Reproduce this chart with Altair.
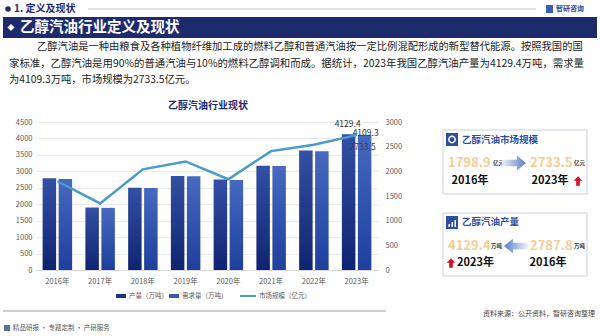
import altair as alt
import pandas as pd

FONT = "Noto Sans CJK SC"

# ---------------- data ----------------
years = ["2016年", "2017年", "2018年", "2019年", "2020年", "2021年", "2022年", "2023年"]
production = [2787.8, 1900, 2500, 2860, 2750, 3170, 3630, 4129.4]   # 万吨
demand = [2770, 1890, 2490, 2850, 2740, 3160, 3610, 4109.3]         # 万吨
market = [1798.9, 1350, 2040, 2200, 1840, 2410, 2540, 2733.5]        # 亿元
left_ticks = [0, 500, 1000, 1500, 2000, 2500, 3000, 3500, 4000, 4500]
right_ticks = [0, 500, 1000, 1500, 2000, 2500, 3000]
legend_labels = ["产量（万吨）", "需求量（万吨）", "市场规模（亿元）"]

section_title = "1. 定义及现状"
banner_title = "乙醇汽油行业定义及现状"
paragraph = [
    "乙醇汽油是一种由粮食及各种植物纤维加工成的燃料乙醇和普通汽油按一定比例混配形成的新型替代能源。按照我国的国",
    "家标准，乙醇汽油是用90%的普通汽油与10%的燃料乙醇调和而成。据统计，2023年我国乙醇汽油产量为4129.4万吨，需求量",
    "为4109.3万吨，市场规模为2733.5亿元。",
]
chart_title = "乙醇汽油行业现状"
panel1 = {"title": "乙醇汽油市场规模", "v_from": "1798.9", "v_to": "2733.5", "unit": "亿元",
          "y_from": "2016年", "y_to": "2023年"}
panel2 = {"title": "乙醇汽油产量", "v_from": "2787.8", "v_to": "4129.4", "unit": "万吨",
          "y_from": "2016年", "y_to": "2023年"}
source_text = "资料来源：公开资料，智研咨询整理"
footer_text = "精品研报 · 专题定制 · 产研服务"
logo_text = "智研咨询"

df = pd.DataFrame({"year": years, "production": production, "demand": demand, "market": market})

# ---------------- layout ----------------
PL, PT, W, H = 36, 122, 342, 148
PR, PB = 600 - PL - W, 336 - PT - H
NAVY = "#1d2a6c"


def X(a):
    return a - PL


def Y(b):
    return b - PT


ONE = pd.DataFrame({"t": [""]})


def txt(s, x, y, size, color, weight="normal", align="left", baseline="middle"):
    return alt.Chart(pd.DataFrame({"t": [s]})).mark_text(
        align=align, baseline=baseline, fontSize=size, color=color,
        fontWeight=weight, font=FONT
    ).encode(x=alt.value(X(x)), y=alt.value(Y(y)), text="t:N")


def rect(x1, x2, y1, y2, fill, stroke=None, sw=1, radius=0):
    kw = dict(fill=fill, cornerRadius=radius)
    if stroke:
        kw.update(stroke=stroke, strokeWidth=sw)
    return alt.Chart(ONE).mark_rect(**kw).encode(
        x=alt.value(X(x1)), x2=alt.value(X(x2)), y=alt.value(Y(y1)), y2=alt.value(Y(y2)))


def hrule(x1, x2, y, color, sw=1):
    return alt.Chart(ONE).mark_rule(color=color, strokeWidth=sw).encode(
        x=alt.value(X(x1)), x2=alt.value(X(x2)), y=alt.value(Y(y)))


def sym(x, y, shape, size, fill=None, stroke=None, sw=1):
    kw = dict(shape=shape, size=size, opacity=1)
    if fill is not None:
        kw.update(filled=True, fill=fill)
    else:
        kw.update(filled=False)
    if stroke:
        kw.update(stroke=stroke, strokeWidth=sw)
    else:
        kw.update(strokeWidth=0)
    return alt.Chart(ONE).mark_point(**kw).encode(x=alt.value(X(x)), y=alt.value(Y(y)))


ARROW_R = "M -1 -0.28 L 0.25 -0.28 L 0.25 -0.62 L 1 0 L 0.25 0.62 L 0.25 0.28 L -1 0.28 Z"
ARROW_L = "M 1 -0.28 L -0.25 -0.28 L -0.25 -0.62 L -1 0 L -0.25 0.62 L -0.25 0.28 L 1 0.28 Z"
UP = "M 0 -1 L 0.9 -0.05 L 0.38 -0.05 L 0.38 1 L -0.38 1 L -0.38 -0.05 L -0.9 -0.05 Z"


def grad_h(c_left, c_right):
    return alt.LinearGradient(gradient="linear", x1=0, x2=1, y1=0, y2=0,
                              stops=[alt.GradientStop(color=c_left, offset=0),
                                     alt.GradientStop(color=c_right, offset=1)])


# ---------------- main chart ----------------
x_enc = alt.X("year:N", sort=years,
              scale=alt.Scale(paddingInner=0, paddingOuter=0),
              axis=alt.Axis(title=None, labelAngle=0, ticks=False, domain=True,
                            domainColor="#d9d9d9", labelPadding=7, labelFontSize=7.5,
                            labelColor="#595959", labelFont=FONT))

yl_scale = alt.Scale(domain=[0, 4500], nice=False)
yr_scale = alt.Scale(domain=[0, 3000], nice=False)
axis_l = alt.Axis(values=left_ticks, format="d", title=None, orient="left", grid=True,
                  gridColor="#e6e6e6", gridWidth=0.8, domain=False, ticks=False,
                  labelPadding=4, labelFontSize=7.5, labelColor="#595959", labelFont=FONT)
axis_r = alt.Axis(values=right_ticks, format="d", title=None, orient="right", grid=False,
                  domain=False, ticks=False, labelPadding=7, labelFontSize=7.5,
                  labelColor="#595959", labelFont=FONT)

prod_grad = alt.LinearGradient(gradient="linear", x1=0, x2=0, y1=0, y2=1,
                               stops=[alt.GradientStop(color="#3350a5", offset=0),
                                      alt.GradientStop(color="#0f2470", offset=1)])
dem_grad = alt.LinearGradient(gradient="linear", x1=0, x2=0, y1=0, y2=1,
                              stops=[alt.GradientStop(color="#4769bf", offset=0),
                                     alt.GradientStop(color="#1f3f9c", offset=1)])

base = alt.Chart(df)

prod_bar = base.mark_bar(width=13.5, xOffset=-8, color=prod_grad).encode(
    x=x_enc, y=alt.Y("production:Q", scale=yl_scale, axis=axis_l))
dem_bar = base.mark_bar(width=13.5, xOffset=8, color=dem_grad).encode(
    x=x_enc, y=alt.Y("demand:Q", scale=yl_scale, axis=axis_l))

last = base.transform_filter(alt.datum.year == years[-1])
prod_lab = last.mark_text(xOffset=-9, dy=-10, fontSize=8.5, color="#333333", font=FONT).encode(
    x=x_enc, y=alt.Y("production:Q", scale=yl_scale, axis=axis_l),
    text=alt.Text("production:Q", format=".1f"))
dem_lab = last.mark_text(xOffset=9, dy=-2, fontSize=8.5, color="#333333", font=FONT).encode(
    x=x_enc, y=alt.Y("demand:Q", scale=yl_scale, axis=axis_l),
    text=alt.Text("demand:Q", format=".1f"))

bars = alt.layer(prod_bar, dem_bar, prod_lab, dem_lab)

line = base.mark_line(color="#4a9bc8", strokeWidth=2.5).encode(
    x=x_enc, y=alt.Y("market:Q", scale=yr_scale, axis=axis_r))
mkt_lab = last.mark_text(xOffset=6, dy=12, fontSize=8.5, color="#3a3f55", font=FONT).encode(
    x=x_enc, y=alt.Y("market:Q", scale=yr_scale, axis=axis_r),
    text=alt.Text("market:Q", format=".1f"))
lines = alt.layer(line, mkt_lab)

main = alt.layer(bars, lines).resolve_scale(y="independent")

# ---------------- decorations ----------------
layers = []
# header
layers += [
    sym(8, 9, "circle", 30, fill=NAVY),
    txt(section_title, 14, 9, 10, NAVY, "bold"),
    hrule(88, 536, 9, "#b5b5b5", 0.8),
    rect(546, 553, 5, 13, "#3a5fb0"),
    txt(logo_text, 556, 9, 7, "#2b4c9e", "bold"),
    rect(3, 597, 17, 38, NAVY),
    sym(11, 27.5, "diamond", 50, fill="white"),
    txt(banner_title, 20, 27.5, 14.5, "white", "bold"),
    txt(paragraph[0], 37, 47, 10.3, "#222222"),
    txt(paragraph[1], 9, 64, 10.4, "#222222"),
    txt(paragraph[2], 9, 80, 10.3, "#222222"),
    txt(chart_title, 208, 106, 10, NAVY, "bold", align="center"),
]
# legend
layers += [
    rect(116, 126, 294, 298, "#1f3585"),
    txt(legend_labels[0], 129, 296, 6.5, "#595959"),
    rect(169, 179, 294, 298, "#3a5ab0"),
    txt(legend_labels[1], 182, 296, 6.5, "#595959"),
    hrule(240, 256, 296, "#4a9bc8", 2),
    txt(legend_labels[2], 259, 296, 6.5, "#595959"),
]
# panel 1
PEACH = "#f5cd95"
layers += [
    rect(443, 587, 130, 194, "white", stroke="#c9cfdc", sw=1),
    rect(446, 458, 133, 146, "#2c4ea3"),
    sym(452, 139.5, "circle", 40, stroke="white", sw=1.5),
    txt(panel1["title"], 462, 140, 9.5, "#2c4ea3", "bold"),
    txt(panel1["v_from"], 448, 163, 13, PEACH, "bold"),
    txt(panel1["unit"], 493, 163, 5.5, "#333333", "bold"),
    sym(514, 163, ARROW_R, 576, fill=grad_h("#f0f3fa", "#5a7cc6")),
    txt(panel1["v_to"], 530, 163, 13, PEACH, "bold"),
    txt(panel1["unit"], 574, 163, 5.5, "#333333", "bold"),
    txt(panel1["y_from"], 470, 181, 11, "#111111", "bold", align="center"),
    txt(panel1["y_to"], 550, 181, 11, "#111111", "bold", align="center"),
    sym(578, 181, UP, 90, fill="#d0102a"),
]
# panel 2
layers += [
    rect(443, 587, 213, 276, "white", stroke="#c9cfdc", sw=1),
    rect(446, 458, 216, 229, "#2c4ea3"),
    rect(448.5, 450, 224, 227, "white"),
    rect(451.5, 453, 222, 227, "white"),
    rect(454.5, 456, 220, 227, "white"),
    txt(panel2["title"], 462, 222, 9.5, "#2c4ea3", "bold"),
    txt(panel2["v_to"], 448, 246, 13, PEACH, "bold"),
    txt(panel2["unit"], 491, 246, 5.5, "#333333", "bold"),
    sym(516, 246, ARROW_L, 576, fill=grad_h("#5a7cc6", "#f0f3fa")),
    txt(panel2["v_from"], 530, 246, 13, PEACH, "bold"),
    txt(panel2["unit"], 574, 246, 5.5, "#333333", "bold"),
    sym(451, 263, UP, 90, fill="#d0102a"),
    txt(panel2["y_to"], 457, 263, 11, "#111111", "bold"),
    txt(panel2["y_from"], 548, 263, 11, "#111111", "bold", align="center"),
]
# footer
layers += [
    hrule(3, 386, 311, "#a0a0a0", 1),
    txt(source_text, 595, 314, 7, "#444444", align="right"),
    rect(4, 10, 325, 331, "#5a6f9a"),
    txt(footer_text, 13, 328, 6.5, "#555555"),
]

chart = alt.layer(main, *layers).properties(
    width=W, height=H,
    padding={"left": PL, "top": PT, "right": PR, "bottom": PB},
    autosize=alt.AutoSizeParams(type="none"),
    background="white",
).configure_view(stroke=None)

chart.save("out.html", embed_options={"renderer": "svg", "actions": False})
